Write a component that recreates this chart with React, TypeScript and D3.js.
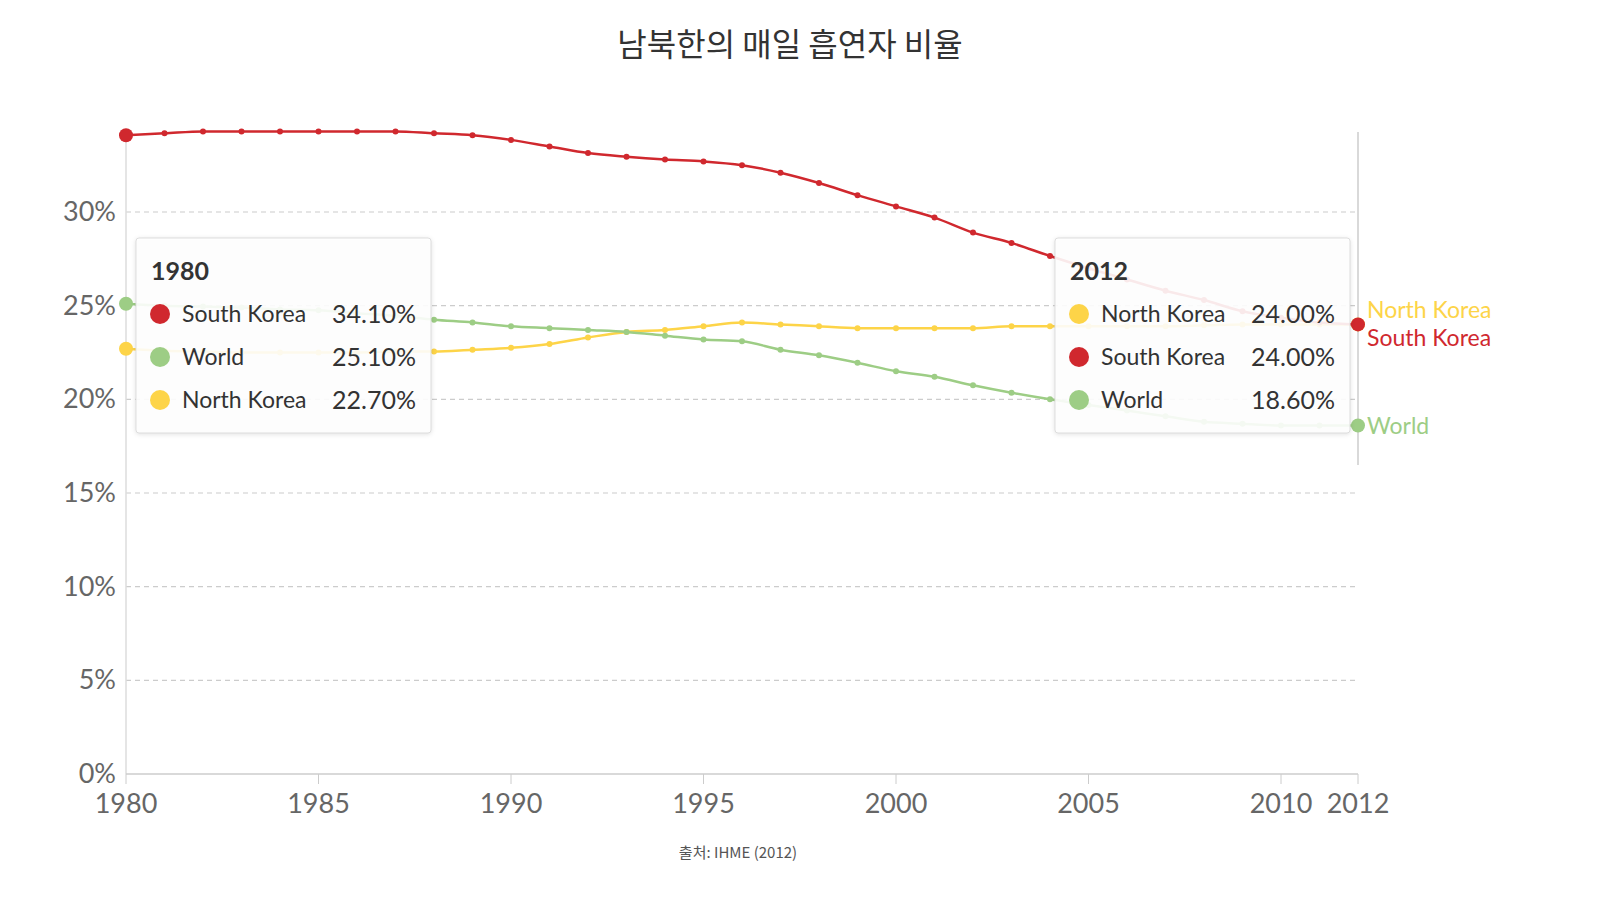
import React, { useEffect, useRef } from 'react';
import * as d3 from 'd3';

const years = d3.range(1980, 2013);
const southKorea = [34.1, 34.2, 34.3, 34.3, 34.3, 34.3, 34.3, 34.3, 34.2, 34.1, 33.85, 33.5, 33.15, 32.95, 32.8, 32.7, 32.5, 32.1, 31.55, 30.9, 30.3, 29.7, 28.9, 28.35, 27.65, 27.0, 26.4, 25.8, 25.3, 24.7, 24.35, 24.1, 24.0];
const world = [25.1, 25.0, 24.95, 24.9, 24.8, 24.75, 24.6, 24.45, 24.25, 24.1, 23.9, 23.8, 23.7, 23.6, 23.4, 23.2, 23.1, 22.65, 22.35, 21.95, 21.5, 21.2, 20.75, 20.35, 20.0, 19.7, 19.4, 19.1, 18.8, 18.7, 18.6, 18.6, 18.6];
const northKorea = [22.7, 22.6, 22.55, 22.5, 22.5, 22.5, 22.5, 22.55, 22.55, 22.65, 22.75, 22.95, 23.3, 23.6, 23.7, 23.9, 24.1, 24.0, 23.9, 23.8, 23.8, 23.8, 23.8, 23.9, 23.9, 23.9, 23.9, 23.9, 23.95, 24.0, 24.0, 24.0, 24.0];
const xTicks = [1980, 1985, 1990, 1995, 2000, 2005, 2010, 2012];
const yTicks = [0, 5, 10, 15, 20, 25, 30];

const series = [
  { name: 'South Korea', values: southKorea, color: '#d0282e' },
  { name: 'World', values: world, color: '#9dcd85' },
  { name: 'North Korea', values: northKorea, color: '#fdd448' },
];

const App: React.FC = () => {
  const ref = useRef<SVGSVGElement>(null);

  useEffect(() => {
    const svg = d3.select(ref.current!);
    svg.selectAll('*').remove();
    const x = d3.scaleLinear().domain([1980, 2012]).range([126, 1358]);
    const y = d3.scaleLinear().domain([0, 30]).range([774, 212]);
    const font = 'Lato, "Noto Sans", sans-serif';

    svg.append('text').attr('x', 790).attr('y', 56).attr('text-anchor', 'middle')
      .style('font-family', '"Noto Sans CJK KR", sans-serif').style('font-size', '32px').attr('fill', '#333')
      .text('남북한의 매일 흡연자 비율');

    yTicks.filter(t => t > 0).forEach(t => {
      svg.append('line').attr('x1', 126).attr('x2', 1358).attr('y1', y(t)).attr('y2', y(t))
        .attr('stroke', '#ccc').attr('stroke-dasharray', '5,4').attr('stroke-width', 1.2);
    });
    yTicks.forEach(t => {
      svg.append('text').attr('x', 116).attr('y', y(t) + 9).attr('text-anchor', 'end')
        .style('font-family', font).style('font-size', '27px').attr('fill', '#666').text(`${t}%`);
    });
    svg.append('line').attr('x1', 126).attr('x2', 126).attr('y1', 132).attr('y2', 774).attr('stroke', '#ddd').attr('stroke-width', 1.5);
    svg.append('line').attr('x1', 126).attr('x2', 1358).attr('y1', 774).attr('y2', 774).attr('stroke', '#ccc').attr('stroke-width', 1.5);
    svg.append('line').attr('x1', 1358).attr('x2', 1358).attr('y1', 132).attr('y2', 465).attr('stroke', '#ccc').attr('stroke-width', 1.5);
    xTicks.forEach(t => {
      svg.append('line').attr('x1', x(t)).attr('x2', x(t)).attr('y1', 774).attr('y2', 784).attr('stroke', '#ccc');
      svg.append('text').attr('x', x(t)).attr('y', 813).attr('text-anchor', 'middle')
        .style('font-family', font).style('font-size', '27px').attr('fill', '#666').text(String(t));
    });

    const line = d3.line<number>().x((_, i) => x(years[i])).y(d => y(d)).curve(d3.curveMonotoneX);
    series.slice().reverse().forEach(s => {
      svg.append('path').attr('d', line(s.values)).attr('fill', 'none').attr('stroke', s.color).attr('stroke-width', 2.5);
      svg.selectAll(null).data(s.values).enter().append('circle')
        .attr('cx', (_, i) => x(years[i])).attr('cy', d => y(d))
        .attr('r', (_, i) => (i === 0 || i === years.length - 1 ? 7 : 3)).attr('fill', s.color);
    });

    const endLabels = [
      { name: 'North Korea', color: '#fdd448', y: 318 },
      { name: 'South Korea', color: '#d0282e', y: 346 },
      { name: 'World', color: '#9dcd85', y: 434 },
    ];
    endLabels.forEach(l => {
      svg.append('text').attr('x', 1367).attr('y', l.y).style('font-family', font).style('font-size', '23px')
        .attr('fill', l.color).text(l.name);
    });

    const tooltip = (bx: number, year: string, rows: typeof series) => {
      const g = svg.append('g').attr('transform', `translate(${bx},238)`);
      g.append('rect').attr('width', 295).attr('height', 195).attr('rx', 3).attr('fill', 'white')
        .attr('fill-opacity', 0.9).attr('stroke', '#ddd').style('filter', 'drop-shadow(0 1px 2px rgba(0,0,0,0.12))');
      g.append('text').attr('x', 15).attr('y', 42).style('font-family', font).style('font-size', '25px')
        .style('font-weight', 'bold').attr('fill', '#333').text(year);
      rows.forEach((r, i) => {
        const cy = 76 + i * 43;
        g.append('circle').attr('cx', 24).attr('cy', cy).attr('r', 10).attr('fill', r.color);
        g.append('text').attr('x', 46).attr('y', cy + 8).style('font-family', font).style('font-size', '23px').attr('fill', '#333').text(r.name);
        const v = year === '1980' ? r.values[0] : r.values[r.values.length - 1];
        g.append('text').attr('x', 280).attr('y', cy + 9).attr('text-anchor', 'end').style('font-family', font)
          .style('font-size', '25px').attr('fill', '#333').text(`${v.toFixed(2)}%`);
      });
    };
    tooltip(136, '1980', [series[0], series[1], series[2]]);
    tooltip(1055, '2012', [series[2], series[0], series[1]]);

    svg.append('text').attr('x', 738).attr('y', 858).attr('text-anchor', 'middle')
      .style('font-family', '"Noto Sans CJK KR", sans-serif').style('font-size', '15px').attr('fill', '#555')
      .text('출처: IHME (2012)');
  }, []);

  return <svg ref={ref} width={1600} height={900} style={{ display: 'block', position: 'absolute', left: 0, top: 0 }} />;
};

export default App;
